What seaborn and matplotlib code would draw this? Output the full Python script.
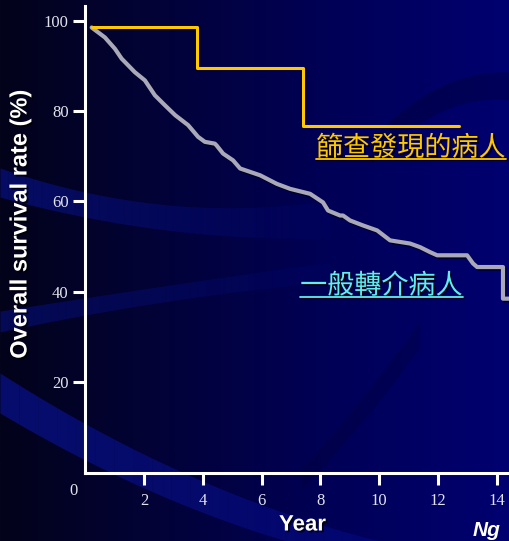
import numpy as np
import pandas as pd
import matplotlib
matplotlib.use("Agg")
import matplotlib.pyplot as plt
import matplotlib.patheffects as pe
from matplotlib.lines import Line2D
from matplotlib.colors import LinearSegmentedColormap
import seaborn as sns

# Kaplan-Meier survival, screen-detected patients (years, %)
screen_year = [0.22, 3.80, 7.40, 12.70]
screen_surv = [98.5, 89.6, 76.6, 76.6]

# Kaplan-Meier survival, routinely referred patients (years, %)
referral_year = [0.22, 0.67, 1.01, 1.24, 1.69, 2.03, 2.37, 2.71, 3.06, 3.50,
                 3.84, 4.07, 4.41, 4.47, 4.69, 5.03, 5.27, 5.95, 6.52, 6.97,
                 7.65, 8.09, 8.26, 8.67, 8.77, 9.01, 9.45, 9.93, 10.37, 11.05,
                 11.39, 11.73, 11.97, 12.99, 13.19, 13.33, 14.21, 14.21, 14.45]
referral_surv = [98.5, 96.3, 93.8, 91.6, 88.6, 86.8, 83.5, 81.3, 79.1, 76.9,
                 74.3, 73.2, 72.8, 72.4, 70.6, 69.1, 67.3, 65.8, 63.9, 62.8,
                 61.7, 59.8, 58.0, 56.9, 56.9, 55.8, 54.7, 53.6, 51.4, 50.7,
                 49.9, 48.8, 48.1, 48.1, 46.3, 45.5, 45.5, 38.5, 38.5]

x_ticks = [2, 4, 6, 8, 10, 12, 14]
y_ticks = [20, 40, 60, 80, 100]
screen_label = "篩查發現的病人"
referral_label = "一般轉介病人"

sns.set_style("ticks")
plt.rcParams["font.family"] = ["DejaVu Sans"]

W, H = 509, 541
fig = plt.figure(figsize=(W / 100, H / 100), dpi=100)

# ---- slide-style background: navy gradient with soft swooshes ----
bg = fig.add_axes([0, 0, 1, 1], zorder=0)
bg.set_xlim(0, W)
bg.set_ylim(H, 0)
bg.axis("off")
navy = LinearSegmentedColormap.from_list("navy", ["#03031a", "#02023a", "#000058", "#000070"])
bg.imshow(np.linspace(0, 1, 256)[None, :], extent=[0, W, H, 0], aspect="auto", cmap=navy)


def swoosh(top_pts, bot_pts, color, a0, a1, n=40):
    xs = np.linspace(top_pts[0][0], top_pts[-1][0], n + 1)
    top = np.polyval(np.polyfit(*zip(*top_pts), 2), xs)
    bot = np.polyval(np.polyfit(*zip(*bot_pts), 2), xs)
    for i in range(n):
        a = a0 + (a1 - a0) * i / n
        bg.fill_between(xs[i:i + 2], top[i:i + 2], bot[i:i + 2], color=color,
                        alpha=a, lw=0)


swoosh([(0, 168), (85, 192), (330, 200)], [(0, 197), (85, 217), (330, 238)],
       "#0814a0", 0.55, 0.05)
swoosh([(0, 311), (150, 288), (330, 262)], [(0, 332), (150, 304), (330, 282)],
       "#0814a0", 0.45, 0.05)
swoosh([(0, 373), (200, 480), (380, 541)], [(0, 413), (133, 483), (300, 545)],
       "#0a16b0", 0.55, 0.25)
swoosh([(370, 140), (430, 92), (509, 72)], [(385, 150), (440, 112), (509, 100)],
       "#000030", 0.35, 0.35)
swoosh([(300, 470), (360, 400), (420, 320)], [(320, 470), (380, 400), (440, 320)],
       "#000030", 0.25, 0.25)

# ---- survival axes ----
x0, y0 = 85.2, 472.7
px_x, px_y = 29.4, 4.52
ax = fig.add_axes([x0 / W, (H - y0) / H, (W - x0) / W, (y0 - 6) / H], zorder=1)
ax.patch.set_alpha(0)

shadow = [pe.SimpleLineShadow(offset=(1.2, -1.2), shadow_color="black", alpha=0.6),
          pe.Normal()]

screen_df = pd.DataFrame({"year": screen_year, "surv": screen_surv})
referral_df = pd.DataFrame({"year": referral_year, "surv": referral_surv})

sns.lineplot(data=referral_df, x="year", y="surv", ax=ax, estimator=None,
             sort=False, color="#a9a9b9", lw=3.0, path_effects=shadow)
sns.lineplot(data=screen_df, x="year", y="surv", ax=ax, estimator=None,
             sort=False, drawstyle="steps-post", color="#ffc800", lw=2.2)

ax.set_xlim(0, (W - x0) / px_x)
ax.set_ylim(0, (y0 - 6) / px_y)
ax.set_xlabel("")
ax.set_ylabel("")
for side in ("top", "right"):
    ax.spines[side].set_visible(False)
for side in ("left", "bottom"):
    ax.spines[side].set_color("white")
    ax.spines[side].set_linewidth(2.2)

ax.set_xticks(x_ticks, labels=[str(v) for v in x_ticks], fontfamily="Liberation Serif")
ax.set_yticks(y_ticks, labels=[str(v) for v in y_ticks], fontfamily="Liberation Serif")
ax.tick_params(axis="both", direction="out", length=8.5, width=2.2, color="white",
               labelcolor="#e2e2ec", labelsize=12)
ax.tick_params(axis="x", pad=6)
ax.tick_params(axis="y", pad=3.5)

txt_shadow = [pe.withSimplePatchShadow(offset=(1.3, -1.3), shadow_rgbFace="black", alpha=0.75)]

t_screen = ax.text(7.85, 71.8, screen_label, color="#ffc800", fontsize=19.5,
                   family=["Noto Sans CJK TC"], ha="left", va="center",
                   path_effects=txt_shadow)
t_ref = ax.text(7.31, 41.3, referral_label, color="#62ecec", fontsize=19.5,
                family=["Noto Sans CJK TC"], ha="left", va="center",
                path_effects=txt_shadow)

# origin label sits below-left of the corner
fig.text(73 / W, 1 - 491 / H, "0", color="#e2e2ec", fontsize=12,
         family="Liberation Serif", ha="center", va="center")

fig.text(20 / W, 1 - 224 / H, "Overall survival rate (%)", rotation=90,
         color="white", fontsize=17, weight="bold", family="Liberation Sans",
         ha="center", va="center", path_effects=txt_shadow)
fig.text(302.5 / W, 1 - 525 / H, "Year", color="white", fontsize=16,
         weight="bold", family="Liberation Sans", ha="center", va="center",
         path_effects=txt_shadow)
fig.text(473 / W, 1 / H, "Ng", color="white", fontsize=15, weight="bold",
         style="italic", family="Liberation Sans", ha="left", va="bottom")

# underline the two group labels
fig.canvas.draw()
renderer = fig.canvas.get_renderer()
for t, col in ((t_screen, "#ffc800"), (t_ref, "#62ecec")):
    bb = t.get_window_extent(renderer)
    yy = (bb.y0 + 3) / H
    fig.add_artist(Line2D([bb.x0 / W, bb.x1 / W], [yy, yy], transform=fig.transFigure,
                          color=col, lw=1.3, zorder=5,
                          path_effects=[pe.SimpleLineShadow(offset=(1, -1), shadow_color="black", alpha=0.7), pe.Normal()]))

fig.savefig("out.png", dpi=100)
